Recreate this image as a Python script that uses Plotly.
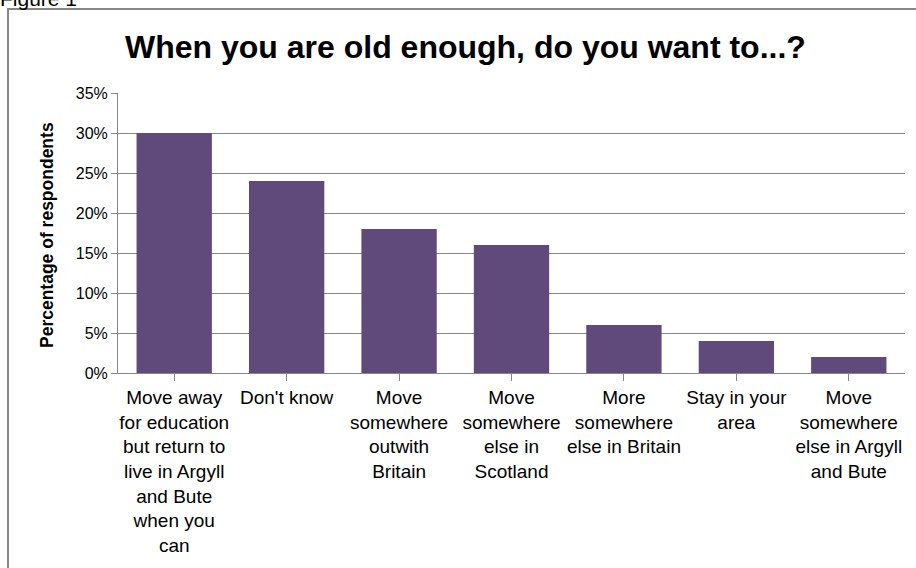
import plotly.graph_objects as go

categories = [
    "Move away<br>for education<br>but return to<br>live in Argyll<br>and Bute<br>when you<br>can",
    "Don't know",
    "Move<br>somewhere<br>outwith<br>Britain",
    "Move<br>somewhere<br>else in<br>Scotland",
    "More<br>somewhere<br>else in Britain",
    "Stay in your<br>area",
    "Move<br>somewhere<br>else in Argyll<br>and Bute",
]
values = [30, 24, 18, 16, 6, 4, 2]
ytick_vals = [0, 5, 10, 15, 20, 25, 30, 35]
ytick_text = ["0%", "5%", "10%", "15%", "20%", "25%", "30%", "35%"]

W, H = 916, 568
ml, mr, mt, mb = 118, 11, 93, 195
pw = W - ml - mr
ph = H - mt - mb

font_fam = "Liberation Sans, Arial, sans-serif"

fig = go.Figure(go.Bar(
    x=list(range(len(categories))), y=values,
    marker=dict(color="#604A7B", line=dict(width=0)),
    width=0.67,
))

fig.update_layout(
    width=W, height=H,
    margin=dict(l=ml, r=mr, t=mt, b=mb),
    paper_bgcolor="white", plot_bgcolor="white",
    showlegend=False,
    font=dict(family=font_fam, color="#000000"),
    bargap=0.33,
)
fig.update_xaxes(
    tickmode="array", tickvals=list(range(len(categories))), ticktext=categories,
    range=[-0.5, len(categories) - 0.5],
    tickson="boundaries", ticks="outside", ticklen=7, tickcolor="#868686",
    showline=True, linecolor="#868686", linewidth=1,
    showgrid=False, tickfont=dict(size=19, color="#000000"),
    tickangle=0, automargin=False,
)
fig.update_yaxes(
    range=[0, 35], tickmode="array", tickvals=ytick_vals, ticktext=ytick_text,
    ticks="outside", ticklen=6, tickcolor="#868686",
    showline=True, linecolor="#868686", linewidth=1,
    showgrid=True, gridcolor="#868686", gridwidth=1,
    tickfont=dict(size=16, color="#000000"), zeroline=False, automargin=False,
)

def px_x(p):
    return (p - ml) / pw

def px_y(p):
    return 1 - (p - mt) / ph

fig.add_annotation(
    text="<b>When you are old enough, do you want to...?</b>",
    xref="paper", yref="paper", x=px_x(465), y=px_y(47),
    xanchor="center", yanchor="middle", showarrow=False,
    font=dict(size=32, color="#000000", family=font_fam),
)
fig.add_annotation(
    text="<b>Percentage of respondents</b>",
    xref="paper", yref="paper", x=px_x(47), y=px_y(235),
    xanchor="center", yanchor="middle", showarrow=False, textangle=-90,
    font=dict(size=17.5, color="#000000", family=font_fam),
)
fig.add_annotation(
    text="Figure 1",
    xref="paper", yref="paper", x=px_x(-2), y=px_y(12),
    xanchor="left", yanchor="bottom", showarrow=False,
    font=dict(size=21, color="#000000", family=font_fam),
)
fig.add_shape(
    type="rect", xref="paper", yref="paper",
    x0=px_x(8), x1=px_x(930), y0=px_y(9), y1=px_y(590),
    line=dict(color="#868686", width=2), fillcolor="rgba(0,0,0,0)", layer="below",
)

fig.write_html(
    "out.html",
    config={"displayModeBar": False},
    post_script="document.body.style.margin='0';document.body.style.overflow='hidden';",
)
